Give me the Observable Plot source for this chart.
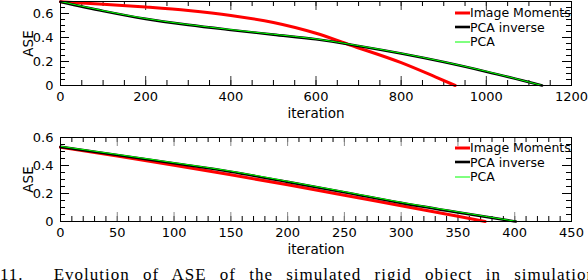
<!DOCTYPE html>
<html><head><meta charset="utf-8">
<script src="https://cdn.jsdelivr.net/npm/d3@7"></script>
<script src="https://cdn.jsdelivr.net/npm/@observablehq/plot@0.6"></script>
<style>
html,body{margin:0;padding:0;background:#fff;}
body{width:588px;height:280px;overflow:hidden;position:relative;font-family:"DejaVu Sans",sans-serif;}
.panel{position:absolute;left:0;}
.legend{position:absolute;left:455px;font:12.5px "DejaVu Sans",sans-serif;color:#000;}
.legend .row{position:absolute;left:0;white-space:nowrap;height:14px;line-height:14px;}
.legend .sw{display:inline-block;width:15px;vertical-align:middle;margin-top:-2px;}
.caption{position:absolute;left:0;top:265px;font:17px "Liberation Serif",serif;white-space:nowrap;word-spacing:8px;letter-spacing:1px;}
</style></head>
<body>
<div id="top" class="panel" style="top:0"></div>
<div id="bot" class="panel" style="top:125px"></div>
<div id="legTop" class="legend" style="top:6px"></div>
<div id="legBot" class="legend" style="top:141px"></div>
<div class="caption"><span>11.</span><span style="margin-left:30px">Evolution of ASE of the simulated rigid object in simulation</span></div>
<script>
// ---- data: top panel ----
const topMomentsX = [0,100,200,300,400,500,600,680,800,880,927];
const topMomentsY = [0.698,0.678,0.654,0.625,0.584,0.525,0.435,0.337,0.190,0.072,0];
const topPcaInvX  = [0,100,200,300,400,500,600,700,800,900,1000,1131];
const topPcaInvY  = [0.697,0.621,0.555,0.505,0.463,0.424,0.385,0.329,0.266,0.195,0.115,0];
const topPcaX     = [0,100,200,300,400,500,600,700,800,900,1000,1131];
const topPcaY     = [0.700,0.624,0.558,0.508,0.466,0.427,0.388,0.332,0.269,0.198,0.118,0];
const topXTicks   = [0,200,400,600,800,1000,1200];
const topYTicks   = [0,0.2,0.4,0.6];
// ---- data: bottom panel ----
const botMomentsX = [0,50,100,150,200,250,300,350,374];
const botMomentsY = [0.530,0.468,0.402,0.334,0.262,0.188,0.112,0.037,0];
const botPcaInvX  = [0,50,100,150,200,250,300,350,401];
const botPcaInvY  = [0.533,0.475,0.416,0.356,0.283,0.209,0.133,0.065,0];
const botPcaX     = [0,50,100,150,200,250,300,350,402];
const botPcaY     = [0.537,0.479,0.420,0.360,0.287,0.213,0.137,0.069,0];
const botXTicks   = [0,50,100,150,200,250,300,350,400,450];
const botYTicks   = [0,0.2,0.4,0.6];
const seriesNames = ["Image Moments","PCA inverse","PCA"];
const seriesColors = ["#ff0000","#000000","#00ff00"];
const seriesWidths = [3,2.6,1];

const zip = (xs, ys) => xs.map((x,i)=>({x, y: ys[i]}));

function panel({xDomain, yDomain, height, marginTop, marginBottom, xTicks, xMinorStep, yTicks, yMinorStep, majorColor, series}) {
  const W = 588 - 60 - 17, H = height - marginTop - marginBottom;
  const xMinor = d3.range(xDomain[0], xDomain[1] + 1e-9, xMinorStep);
  const yMinor = d3.range(yDomain[0], yDomain[1] + 1e-9, yMinorStep).map(v => +v.toFixed(3));
  const minor = 5, major = 9;
  return Plot.plot({
    width: 588, height, marginLeft: 60, marginRight: 17, marginTop, marginBottom,
    style: {fontFamily: "DejaVu Sans", fontSize: "13px", color: "#000", background: "transparent"},
    x: {domain: xDomain, ticks: xTicks, tickSize: 0, tickPadding: 6, tickFormat: d => String(d), label: null},
    y: {domain: yDomain, ticks: yTicks, tickSize: 0, tickPadding: 7, tickFormat: d => String(d), label: null},
    marks: [
      Plot.ruleX(xMinor, {x: d => d, insetTop: H - minor, stroke: "#000"}),
      Plot.ruleX(xMinor, {x: d => d, insetBottom: H - minor, stroke: "#000"}),
      Plot.ruleX(xTicks, {x: d => d, insetTop: H - major, stroke: majorColor}),
      Plot.ruleX(xTicks, {x: d => d, insetBottom: H - major, stroke: majorColor}),
      Plot.ruleY(yMinor, {y: d => d, insetRight: W - minor, stroke: "#000"}),
      Plot.ruleY(yMinor, {y: d => d, insetLeft: W - minor, stroke: "#000"}),
      Plot.ruleY(yTicks, {y: d => d, insetRight: W - major, stroke: "#000"}),
      Plot.ruleY(yTicks, {y: d => d, insetLeft: W - major, stroke: "#000"}),
      ...series.map((s, i) => Plot.line(s, {x: "x", y: "y", stroke: seriesColors[i], strokeWidth: seriesWidths[i], curve: "monotone-x"})),
      Plot.frame({stroke: "#000"}),
      Plot.text(["iteration"], {frameAnchor: "bottom", lineAnchor: "middle", textAnchor: "middle", dy: 28, fontSize: 13.5}),
      Plot.text(["ASE"], {frameAnchor: "left", lineAnchor: "middle", textAnchor: "middle", dx: -32, rotate: -90, fontSize: 13.5})
    ]
  });
}

document.getElementById("top").append(panel({
  xDomain: [0,1200], yDomain: [0,0.7], height: 125, marginTop: 1, marginBottom: 40,
  xTicks: topXTicks, xMinorStep: 50, yTicks: topYTicks, yMinorStep: 0.05, majorColor: "#333",
  series: [zip(topMomentsX, topMomentsY), zip(topPcaInvX, topPcaInvY), zip(topPcaX, topPcaY)]
}));
document.getElementById("bot").append(panel({
  xDomain: [0,450], yDomain: [0,0.6], height: 135, marginTop: 12, marginBottom: 39,
  xTicks: botXTicks, xMinorStep: 10, yTicks: botYTicks, yMinorStep: 0.05, majorColor: "#888",
  series: [zip(botMomentsX, botMomentsY), zip(botPcaInvX, botPcaInvY), zip(botPcaX, botPcaY)]
}));

function legend(id) {
  const el = document.getElementById(id);
  seriesNames.forEach((name, i) => {
    const row = document.createElement("div");
    row.className = "row";
    row.style.top = (i * 14.5) + "px";
    row.innerHTML = `<svg class="sw" width="15" height="6"><line x1="0" x2="15" y1="3" y2="3" stroke="${seriesColors[i]}" stroke-width="${seriesWidths[i]}"/></svg>${name}`;
    el.append(row);
  });
}
legend("legTop");
legend("legBot");
</script>
</body></html>
